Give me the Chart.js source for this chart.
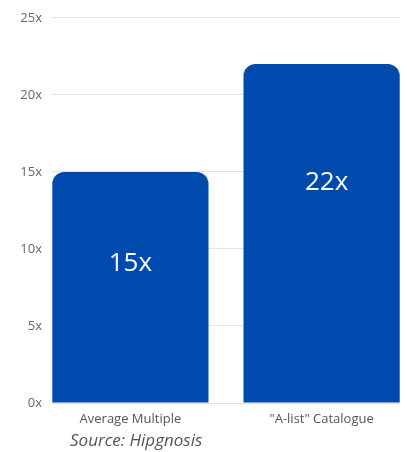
<!DOCTYPE html>
<html>
<head>
<meta charset="utf-8">
<script src="https://cdn.jsdelivr.net/npm/chart.js@4/dist/chart.umd.min.js"></script>
<style>
html,body{margin:0;padding:0;background:#fff;}
#wrap{width:407px;height:452px;position:relative;}
</style>
</head>
<body>
<div id="wrap"><canvas id="c" width="407" height="452"></canvas></div>
<script>
const categories = ["Average Multiple", "\"A-list\" Catalogue"];
const multiples = [15, 22];
const yTicks = [0, 5, 10, 15, 20, 25];
const sourceText = "Source: Hipgnosis";

const FONT = "'Open Sans', 'Noto Sans', sans-serif";

const labelPlugin = {
  id: 'barLabels',
  afterDatasetsDraw(chart) {
    const ctx = chart.ctx;
    const meta = chart.getDatasetMeta(0);
    const y = chart.scales.y;
    ctx.save();
    ctx.fillStyle = '#ffffff';
    ctx.font = "26px " + FONT;
    ctx.textAlign = 'center';
    ctx.textBaseline = 'middle';
    meta.data.forEach((bar, i) => {
      const v = multiples[i];
      const py = y.getPixelForValue(v * 0.75 - 2.2);
      ctx.fillText(v + 'x', bar.x + i * 5, py);
    });
    ctx.restore();
  },
  afterDraw(chart) {
    const ctx = chart.ctx;
    ctx.save();
    ctx.fillStyle = '#555555';
    ctx.font = "italic 17px " + FONT;
    ctx.textAlign = 'left';
    ctx.textBaseline = 'middle';
    ctx.fillText(sourceText, 70, 441);
    ctx.restore();
  }
};

new Chart(document.getElementById('c'), {
  type: 'bar',
  data: {
    datasets: [{
      data: multiples.map((v, i) => ({ x: i, y: v })),
      backgroundColor: '#004aad',
      borderRadius: 12,
      barPercentage: 0.817,
      categoryPercentage: 1.0
    }]
  },
  options: {
    responsive: false,
    animation: false,
    layout: { padding: { top: 15, right: 7, left: 0, bottom: 0 } },
    plugins: { legend: { display: false }, tooltip: { enabled: false } },
    scales: {
      x: {
        type: 'linear',
        offset: false,
        min: -0.41, max: 1.41,
        afterBuildTicks(s) { s.ticks = categories.map((c, i) => ({ value: i })); },
        grid: { display: false, drawTicks: false, offset: false },
        border: { display: false },
        ticks: { color: '#555555', font: { family: FONT, size: 13 }, padding: 8,
                 callback: v => categories[v] },
        afterFit(s) { s.height = 49; }
      },
      y: {
        min: 0, max: 25,
        afterBuildTicks(s) { s.ticks = yTicks.map(v => ({ value: v })); },
        grid: { color: '#e2e2e2', drawTicks: false, lineWidth: 1 },
        border: { display: false },
        ticks: { color: '#666666', font: { family: FONT, size: 13 }, padding: 10, callback: v => v + 'x' },
        afterFit(s) { s.width = 52; }
      }
    }
  },
  plugins: [labelPlugin]
});
</script>
</body>
</html>
